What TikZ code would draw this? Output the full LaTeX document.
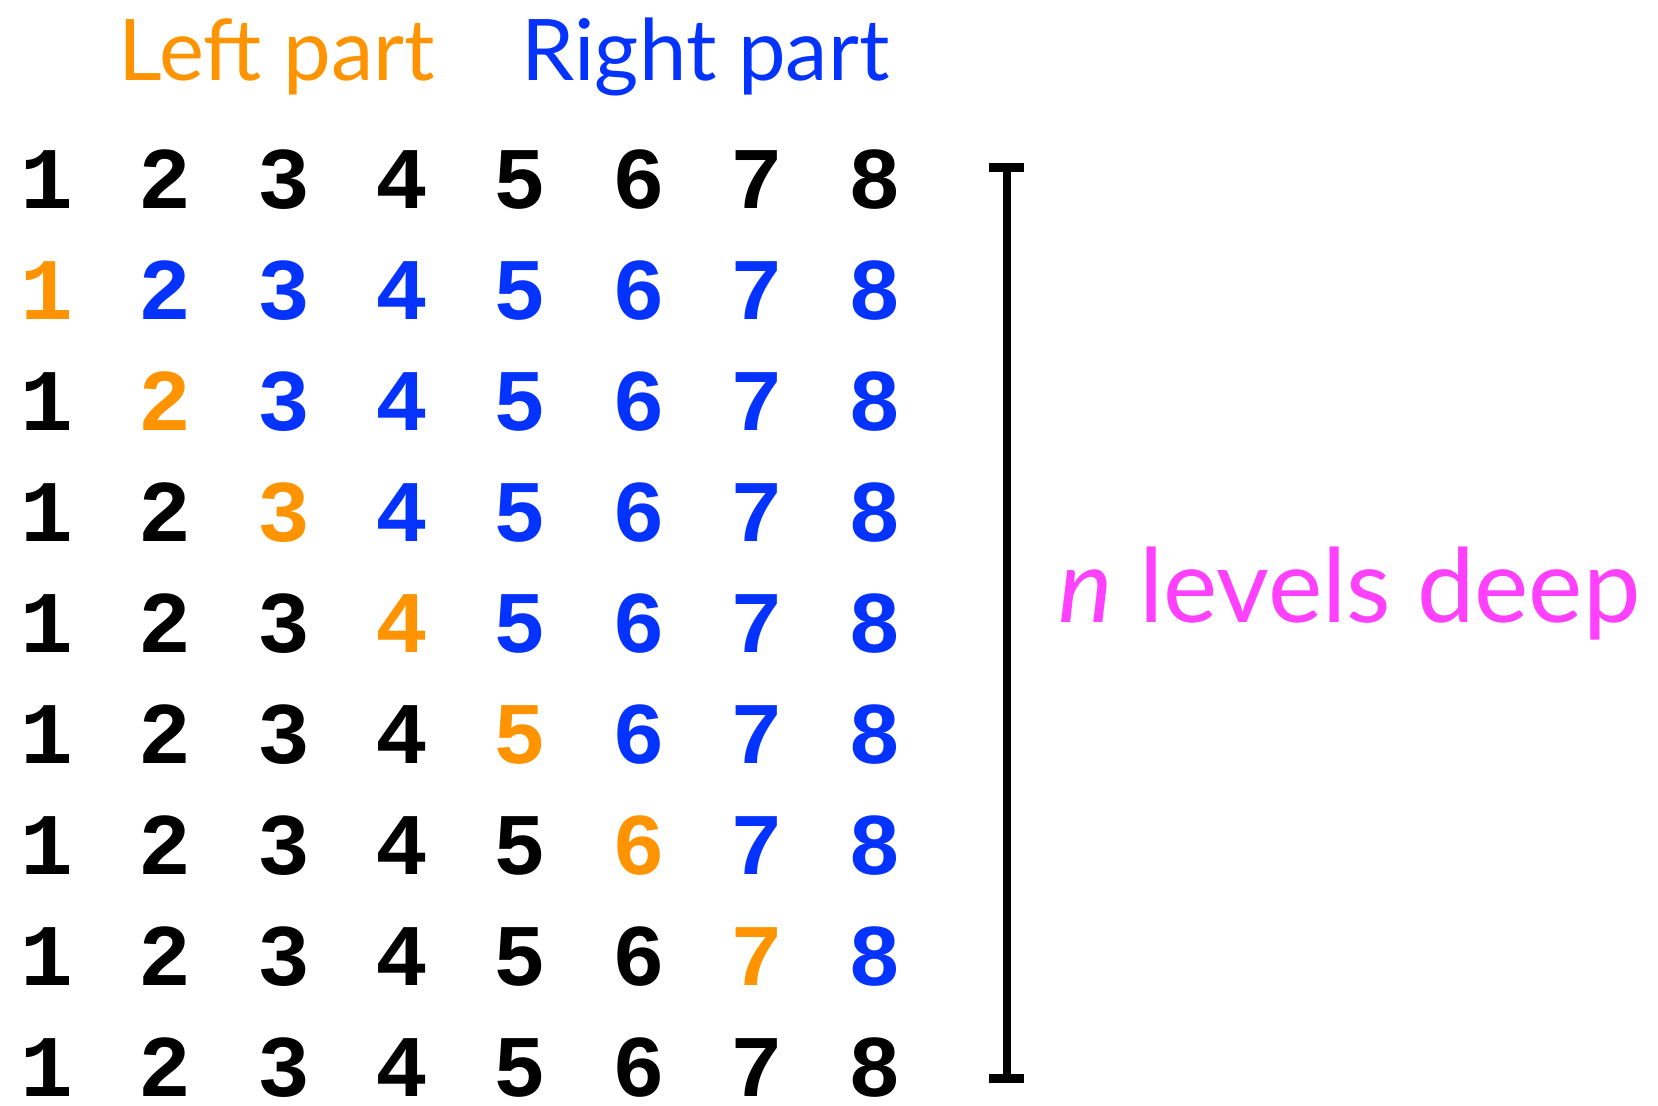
\documentclass[tikz,border=0pt]{standalone}
\usepackage{fontspec}
\setmainfont{Lato}
\setmonofont{Liberation Mono}
\usepackage{tikz}
\usetikzlibrary{positioning,calc}
\definecolor{LeftOrange}{RGB}{255,147,0}
\definecolor{RightBlue}{RGB}{4,51,255}
\definecolor{DeepPink}{RGB}{255,64,255}
\tikzset{digit/.style={anchor=base,inner sep=0pt,font=\fontsize{25}{30}\selectfont\ttfamily\bfseries}, head/.style={anchor=base west,inner sep=0pt,font=\fontsize{24.2}{29}\selectfont}, levelbar/.style={draw=black,line width=0.08cm}, levelcap/.style={draw=black,line width=0.09cm}}
\begin{document}
\begin{tikzpicture}
\useasboundingbox (0,0) rectangle (16.58,-11.05);
\node[head,text=LeftOrange] (leftpart) at (1.18,-0.80) {Left part};
\node[head,text=RightBlue] (rightpart) at (5.21,-0.80) {Right part};
\foreach \r in {1,...,9}{
  \foreach \c in {1,...,8}{
    \ifnum\r=1 \def\col{black}\else\ifnum\r=9 \def\col{black}\else
      \ifnum\c<\numexpr\r-1\relax \def\col{black}\else
        \ifnum\c=\numexpr\r-1\relax \def\col{LeftOrange}\else \def\col{RightBlue}\fi\fi\fi\fi
    \node[digit,text=\col] (d\r\c) at ({0.47+(\c-1)*1.183},{-2.08-(\r-1)*1.11}) {\c};
  }
}
\coordinate (bartop) at (10.065,-1.67);
\coordinate (barbot) at (10.065,-10.78);
\draw[levelbar] (bartop) -- (barbot);
\draw[levelcap] ($(bartop)+(-0.175,0)$) -- ($(bartop)+(0.175,0)$);
\draw[levelcap] ($(barbot)+(-0.175,0)$) -- ($(barbot)+(0.175,0)$);
\node[head,text=DeepPink,font=\fontsize{29.2}{34}\selectfont] (deep) at (10.58,-6.22) {\textit{n} levels deep};
\end{tikzpicture}
\end{document}
